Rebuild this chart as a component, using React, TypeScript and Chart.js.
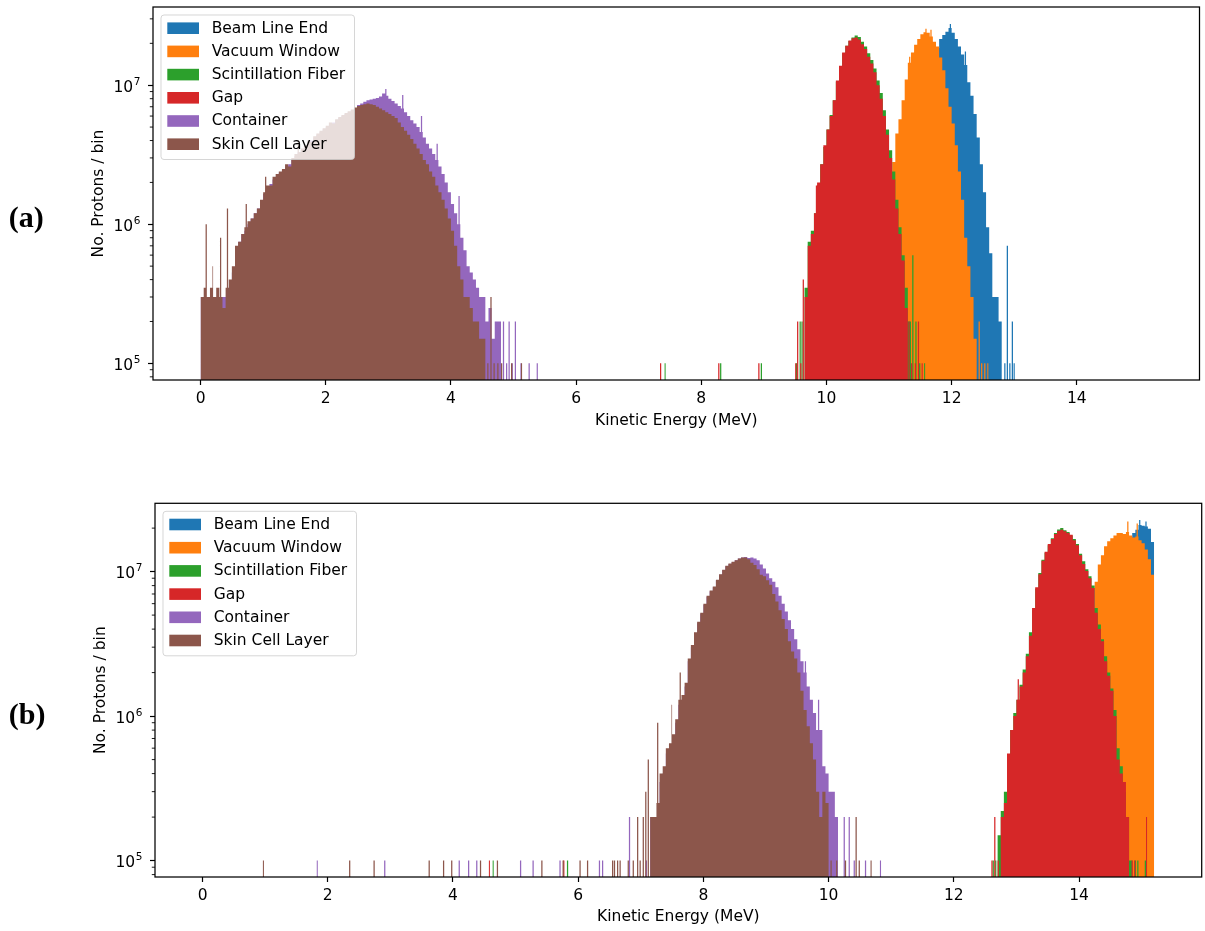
import React, { useEffect, useRef } from "react";
import { Chart, registerables } from "chart.js";

Chart.register(...registerables);

const FONT = "DejaVu Sans";
const UNIT = 1e5; // counts below are in units of 1e5 protons per bin
const BIN = 0.05; // MeV, dense-bin width
const SPIKE = 0.02; // MeV, width of an isolated histogram bin

const SERIES_LABELS = ["Beam Line End", "Vacuum Window", "Scintillation Fiber", "Gap", "Container", "Skin Cell Layer"];
const SERIES_COLORS = ["#1f77b4", "#ff7f0e", "#2ca02c", "#d62728", "#9467bd", "#8c564b"];

const X_MIN = -0.76;
const X_MAX = 15.96;
const X_TICKS = [0, 2, 4, 6, 8, 10, 12, 14];
const Y_TICKS = [1e5, 1e6, 1e7];
const Y_TICK_BASE = "10";
const Y_TICK_EXPONENTS = ["5", "6", "7"];
const X_TITLE = "Kinetic Energy (MeV)";
const Y_TITLE = "No. Protons / bin";
const PANEL_LABELS = ["(a)", "(b)"];
const A_Y_RANGE = [7.59e4, 3.65e7];
const B_Y_RANGE = [7.7e4, 2.97e7];

// ---------------- Panel (a) ----------------
const aBeamStart = 11.1;
const aBeam = [8, 12, 18, 27, 38, 52, 70, 90, 110, 130, 145, 160, 175, 185, 215, 230, 242, 258, 238, 215, 190, 166, 140, 105, 84, 62, 42, 27, 17, 9.5, 6.2, 3, 3, 2];
const aBeamSpikeE = [11.97, 12.21, 12.84, 12.88, 12.92, 12.96, 12.99];
const aBeamSpikeN = [275, 175, 1, 7, 1, 2, 1];

const aVacuumStart = 10.85;
const aVacuum = [3, 6, 11, 18, 28, 45, 57, 78, 110, 145, 172, 195, 215, 232, 240, 238, 224, 205, 190, 158, 128, 95, 70, 53, 37, 24, 15, 8, 5, 3, 1.5];
const aVacuumSpikeE = [11.32, 11.58, 11.66, 12.43, 12.47, 12.52, 12.57];
const aVacuumSpikeN = [160, 255, 250, 2, 1, 1, 1];

const aFiberStart = 9.65;
const aFiber = [3.5, 7.5, 9, 12, 19, 27, 36, 48, 61, 78, 106, 136, 170, 192, 208, 220, 228, 222, 205, 190, 170, 152, 132, 108, 88, 66, 48, 34, 24, 15, 9.5, 6, 3.5, 2];
const aFiberSpikeE = [7.41, 8.3, 8.95, 9.51, 9.57, 9.6, 11.37, 11.42, 11.48, 11.56];
const aFiberSpikeN = [1, 1, 1, 1, 2, 2, 6, 2, 1, 1];

const aGapStart = 9.65;
const aGap = [3, 7, 8.5, 12, 20, 27, 37, 48, 60, 78, 108, 138, 172, 192, 210, 218, 220, 213, 197, 182, 160, 143, 124, 100, 80, 60, 44, 30, 21, 13, 8.5, 5.5, 2.5];
const aGapSpikeE = [7.34, 8.27, 8.91, 9.5, 9.53, 9.58, 9.62, 9.83, 11.31, 11.35, 11.41, 11.46, 11.52];
const aGapSpikeN = [1, 1, 1, 1, 2, 1, 4, 19, 2, 1, 1, 2, 1];

const aContainerStart = 0;
const aContainer = [
  3, 3, 3, 3, 3, 3, 3, 3, 3, 3.5,
  4.5, 6.5, 7.5, 8.5, 9, 10, 11, 12, 13, 14.5,
  16.5, 18.5, 19.5, 21, 22, 23.5, 24.5, 26, 27, 29,
  31, 33, 34, 36, 38, 40, 42, 44, 46, 48,
  50, 52, 54, 56, 58, 60, 62, 64, 66, 68,
  72, 74, 76, 78, 79, 80, 81, 83, 87, 84,
  80, 77, 74, 71, 68, 64, 60, 56, 53, 50,
  46, 42, 38, 35, 32, 29, 26, 23, 20, 17,
  14, 12, 10, 8, 6.5, 5, 4.5, 4, 3.5, 3,
  3, 2, 2.5, 1.5, 2, 2,
];
const aContainerSpikeE = [2.95, 3.22, 3.52, 3.77, 4.12, 4.83, 4.88, 4.92, 4.97, 5.02, 5.11, 5.24, 5.37];
const aContainerSpikeN = [94, 85, 60, 38, 16, 2, 1, 2, 1, 2, 1, 1, 1];

const aSkinStart = 0;
const aSkin = [
  3, 3.5, 3, 3.5, 3, 3.5, 3, 2.5, 3.5, 4,
  5, 7, 7.5, 8.5, 9.5, 10.5, 11, 12, 13, 15,
  17, 19, 19, 22, 23, 24, 25, 27, 26, 30,
  32, 33, 35, 37, 40, 39, 43, 45, 47, 49,
  51, 54, 53, 57, 59, 61, 63, 65, 67, 69,
  71, 72, 73, 74, 73, 72, 70, 68, 66, 64,
  62, 60, 58, 54, 50, 47, 44, 41, 38, 35,
  32, 29, 27, 24, 22, 19, 17, 15, 13, 11,
  9, 7, 5, 4, 3, 3, 2.5, 2, 2, 1.5,
  1.5,
];
const aSkinSpikeE = [0.08, 0.19, 0.31, 0.42, 0.72, 1.03, 1.55, 4.58, 4.63, 4.68, 4.74, 4.8, 4.96, 5.12];
const aSkinSpikeN = [10, 5, 8, 13, 14, 22, 40, 1, 3, 1, 1, 1, 1, 1];

// ---------------- Panel (b) ----------------
const bBeamStart = 14.3;
const bBeam = [20, 30, 45, 60, 80, 100, 120, 140, 155, 165, 172, 185, 195, 210, 208, 205, 198, 160];
const bBeamSpikeE = [14.96, 15.06];
const bBeamSpikeN = [228, 222];

const bVacuumStart = 13.85;
const bVacuum = [3, 5, 8, 12, 19, 28, 40, 55, 85, 112, 130, 150, 162, 170, 178, 185, 185, 182, 188, 178, 172, 175, 165, 157, 142, 122, 95];
const bVacuumSpikeE = [14.77, 14.92];
const bVacuumSpikeN = [222, 215];

const bFiberStart = 12.7;
const bFiber = [1.5, 2.2, 3, 5, 8, 10.5, 13, 16.5, 21, 27, 38, 54, 76, 98, 121, 135, 152, 170, 185, 196, 200, 193, 188, 178, 168, 155, 133, 118, 104, 93, 80, 56, 43, 34, 26, 20, 15.5, 11, 6, 4.5, 3, 2, 1];
const bFiberSpikeE = [4.63, 5.82, 12.62, 12.66, 14.89, 14.93, 15.05];
const bFiberSpikeN = [1, 1, 1, 1, 1, 1, 1];

const bGapStart = 12.75;
const bGap = [2, 2.5, 5.5, 8, 10, 13, 16, 20, 26, 36, 56, 78, 96, 119, 137, 155, 168, 182, 192, 195, 190, 185, 180, 165, 152, 130, 113, 101, 90, 77, 52, 40, 33, 24, 19, 15, 10, 5, 4, 3.5, 2];
const bGapSpikeE = [4.57, 5.76, 12.6, 12.645, 12.7, 13.02, 14.84, 14.88, 15.07];
const bGapSpikeN = [1, 1, 1, 2, 1, 18, 1, 1, 2];

const bContainerStart = 7.15;
const bContainer = [
  2, 2, 2, 3.5, 4, 5.5, 6, 7, 9, 12, 13, 16, 24, 30, 37, 44, 51, 59, 67, 73, 78, 87, 95, 102, 109, 113, 116, 120, 123, 125, 126,
  124, 125, 123, 120, 112, 105, 97, 90, 85, 78, 68, 60, 53, 46, 40, 34, 29, 24, 20, 16, 13, 10.5, 8, 5.5, 4.5, 4, 3, 3, 2,
];
const bContainerSpikeE = [1.82, 2.9, 4.09, 4.24, 4.37, 5.07, 5.27, 5.7, 6.33, 6.38, 6.81, 7.08, 9.62, 9.83, 10.24, 10.32, 10.4, 10.58, 10.82];
const bContainerSpikeN = [1, 1, 1, 1, 1, 1, 1, 1, 1, 1, 2, 1, 24, 13, 2, 2, 1, 1, 1];

const bSkinStart = 7.15;
const bSkin = [2, 2, 2.5, 4, 4.5, 6, 6.5, 7.5, 9.5, 13, 14, 17, 25, 31, 38, 45, 52, 60, 68, 74, 79, 88, 96, 103, 110, 114, 117, 120, 123, 125, 125, 122, 115, 111, 104, 95, 93, 87, 81, 70, 62, 54, 47, 40, 33, 28, 25, 20, 15, 11, 8.5, 6.5, 5, 3, 2, 3, 2.5];
const bSkinSpikeE = [0.96, 2.34, 2.73, 3.61, 3.84, 3.97, 4.43, 4.7, 5.41, 5.75, 6.02, 6.14, 6.54, 6.57, 6.62, 6.66, 6.79, 6.87, 6.94, 6.98, 7.03, 7.07, 7.11, 7.26, 7.49, 7.62, 10.03, 10.12, 10.26, 10.43, 10.48, 10.67];
const bSkinSpikeN = [1, 1, 1, 1, 1, 1, 1, 1, 1, 1, 1, 1, 1, 1, 1, 1, 1, 1, 2, 1, 2, 3, 5, 9, 12, 20, 1, 1, 1, 2, 1, 1];

type Series = { start: number; counts: number[]; spikeE: number[]; spikeN: number[] };

const A_SERIES: Series[] = [
  { start: aBeamStart, counts: aBeam, spikeE: aBeamSpikeE, spikeN: aBeamSpikeN },
  { start: aVacuumStart, counts: aVacuum, spikeE: aVacuumSpikeE, spikeN: aVacuumSpikeN },
  { start: aFiberStart, counts: aFiber, spikeE: aFiberSpikeE, spikeN: aFiberSpikeN },
  { start: aGapStart, counts: aGap, spikeE: aGapSpikeE, spikeN: aGapSpikeN },
  { start: aContainerStart, counts: aContainer, spikeE: aContainerSpikeE, spikeN: aContainerSpikeN },
  { start: aSkinStart, counts: aSkin, spikeE: aSkinSpikeE, spikeN: aSkinSpikeN },
];
const B_SERIES: Series[] = [
  { start: bBeamStart, counts: bBeam, spikeE: bBeamSpikeE, spikeN: bBeamSpikeN },
  { start: bVacuumStart, counts: bVacuum, spikeE: bVacuumSpikeE, spikeN: bVacuumSpikeN },
  { start: bFiberStart, counts: bFiber, spikeE: bFiberSpikeE, spikeN: bFiberSpikeN },
  { start: bGapStart, counts: bGap, spikeE: bGapSpikeE, spikeN: bGapSpikeN },
  { start: bContainerStart, counts: bContainer, spikeE: bContainerSpikeE, spikeN: bContainerSpikeN },
  { start: bSkinStart, counts: bSkin, spikeE: bSkinSpikeE, spikeN: bSkinSpikeN },
];

// Layout (pixels) for each panel
const LAYOUT_A = { top: 0, height: 440, padding: { left: 85, top: 7, right: 5.5, bottom: 0 }, yWidth: 68, xHeight: 60, xTitlePad: 10.1, yTitlePad: 4.3 };
const LAYOUT_B = { top: 490, height: 441, padding: { left: 87, top: 13.3, right: 3.3, bottom: 0 }, yWidth: 68, xHeight: 54, xTitlePad: 4.5, yTitlePad: 4.3 };

// Turn histogram bins into the vertices of a stepped outline (each vertex holds
// its height until the next vertex). Narrow single bins are overlaid as spikes.
function buildPoints(s: Series, floor: number) {
  const denseEnd = s.start + s.counts.length * BIN;
  const heightAt = (x: number) => {
    if (x < s.start || x >= denseEnd) return floor;
    return s.counts[Math.min(s.counts.length - 1, Math.floor((x - s.start) / BIN))] * UNIT;
  };
  const pts: { x: number; y: number }[] = [];
  s.counts.forEach((v, i) => pts.push({ x: s.start + i * BIN, y: v * UNIT }));
  pts.push({ x: denseEnd, y: floor });
  s.spikeE.forEach((e, i) => {
    const base = heightAt(e);
    pts.push({ x: e, y: Math.max(base, s.spikeN[i] * UNIT) });
    pts.push({ x: e + SPIKE, y: heightAt(e + SPIKE) });
  });
  pts.sort((a, b) => a.x - b.x);
  // drop vertices that share an x with a later one (keeps the outline well formed)
  const out: { x: number; y: number }[] = [];
  pts.forEach((p) => {
    const last = out[out.length - 1];
    if (last && Math.abs(last.x - p.x) < 1e-9) {
      last.y = Math.max(last.y, p.y);
    } else {
      out.push({ ...p });
    }
  });
  return out;
}

function makeDecor() {
  return {
    id: "decor",
    afterDraw(chart: any) {
      const { ctx, chartArea: ca } = chart;
      const ys = chart.scales.y;
      ctx.save();
      // minor log ticks
      ctx.strokeStyle = "#000";
      ctx.lineWidth = 0.9;
      const lo = Math.floor(Math.log10(ys.min));
      const hi = Math.ceil(Math.log10(ys.max));
      for (let k = lo; k <= hi; k++) {
        for (let m = 2; m <= 9; m++) {
          const v = m * Math.pow(10, k);
          if (v < ys.min || v > ys.max) continue;
          const py = ys.getPixelForValue(v);
          ctx.beginPath();
          ctx.moveTo(ca.left - 3.2, py);
          ctx.lineTo(ca.left, py);
          ctx.stroke();
        }
      }
      // y tick labels 10^n
      ctx.fillStyle = "#000";
      ctx.textAlign = "left";
      ctx.textBaseline = "alphabetic";
      Y_TICKS.forEach((v, i) => {
        if (v < ys.min || v > ys.max) return;
        const py = ys.getPixelForValue(v);
        ctx.font = `10.5px ${FONT}`;
        const we = ctx.measureText(Y_TICK_EXPONENTS[i]).width;
        ctx.font = `15.5px ${FONT}`;
        const wb = ctx.measureText(Y_TICK_BASE).width;
        const xr = ca.left - 12.5;
        ctx.fillText(Y_TICK_BASE, xr - we - wb - 0.6, py + 6.4);
        ctx.font = `10.5px ${FONT}`;
        ctx.fillText(Y_TICK_EXPONENTS[i], xr - we, py - 0.2);
      });
      // frame
      ctx.strokeStyle = "#000";
      ctx.lineWidth = 1.25;
      ctx.strokeRect(ca.left, ca.top, ca.right - ca.left, ca.bottom - ca.top);
      // legend
      const bx = ca.left + 8;
      const by = ca.top + 8;
      const bw = 193.5;
      const bh = 144.5;
      const r = 3;
      ctx.beginPath();
      ctx.moveTo(bx + r, by);
      ctx.lineTo(bx + bw - r, by);
      ctx.arcTo(bx + bw, by, bx + bw, by + r, r);
      ctx.lineTo(bx + bw, by + bh - r);
      ctx.arcTo(bx + bw, by + bh, bx + bw - r, by + bh, r);
      ctx.lineTo(bx + r, by + bh);
      ctx.arcTo(bx, by + bh, bx, by + bh - r, r);
      ctx.lineTo(bx, by + r);
      ctx.arcTo(bx, by, bx + r, by, r);
      ctx.closePath();
      ctx.fillStyle = "rgba(255,255,255,0.8)";
      ctx.fill();
      ctx.strokeStyle = "rgba(204,204,204,0.8)";
      ctx.lineWidth = 1;
      ctx.stroke();
      ctx.font = `15.5px ${FONT}`;
      ctx.textBaseline = "middle";
      SERIES_LABELS.forEach((lab, i) => {
        const cy = by + 13.2 + 23.2 * i;
        ctx.fillStyle = SERIES_COLORS[i];
        ctx.fillRect(bx + 6.3, cy - 5.8, 31.7, 11.6);
        ctx.fillStyle = "#000";
        ctx.fillText(lab, bx + 50.7, cy + 0.4);
      });
      ctx.restore();
    },
  };
}

function HistPanel({ layout, series, yRange }: { layout: typeof LAYOUT_A; series: Series[]; yRange: number[] }) {
  const ref = useRef<HTMLCanvasElement>(null);
  useEffect(() => {
    const canvas = ref.current;
    if (!canvas) return;
    const floor = yRange[0];
    const n = series.length;
    const datasets = series.map((s, i) => ({
      label: SERIES_LABELS[i],
      data: buildPoints(s, floor),
      backgroundColor: SERIES_COLORS[i],
      borderColor: "rgba(0,0,0,0)",
      borderWidth: 0,
      pointRadius: 0,
      pointHoverRadius: 0,
      fill: "start",
      stepped: true,
      tension: 0,
      order: n - 1 - i,
    }));
    const axisFont = { family: FONT, size: 15.5 };
    const chart = new Chart(canvas, {
      type: "line",
      data: { datasets } as any,
      options: {
        animation: false,
        responsive: false,
        events: [],
        layout: { padding: layout.padding },
        plugins: { legend: { display: false }, tooltip: { enabled: false } },
        scales: {
          x: {
            type: "linear",
            min: X_MIN,
            max: X_MAX,
            afterBuildTicks: (s: any) => {
              s.ticks = X_TICKS.map((v) => ({ value: v }));
            },
            afterFit: (s: any) => {
              s.height = layout.xHeight;
            },
            ticks: {
              callback: (v: any) => String(v),
              font: axisFont,
              color: "#000",
              padding: 4.3,
              maxRotation: 0,
              autoSkip: false,
            },
            grid: { display: true, drawOnChartArea: false, drawTicks: true, tickLength: 5, tickWidth: 1.2, tickColor: "#000", color: "#000" },
            border: { display: false },
            title: { display: true, text: X_TITLE, font: axisFont, color: "#000", padding: { top: 0, bottom: layout.xTitlePad } },
          },
          y: {
            type: "logarithmic",
            min: yRange[0],
            max: yRange[1],
            afterBuildTicks: (s: any) => {
              s.ticks = Y_TICKS.map((v) => ({ value: v, major: true }));
            },
            afterFit: (s: any) => {
              s.width = layout.yWidth;
            },
            ticks: { display: false },
            grid: { display: true, drawOnChartArea: false, drawTicks: true, tickLength: 5, tickWidth: 1.2, tickColor: "#000", color: "#000" },
            border: { display: false },
            title: { display: true, text: Y_TITLE, font: axisFont, color: "#000", padding: { top: layout.yTitlePad, bottom: 0 } },
          },
        },
      } as any,
      plugins: [makeDecor()],
    });
    return () => chart.destroy();
  }, []);
  return (
    <canvas
      ref={ref}
      width={1205}
      height={layout.height}
      style={{ position: "absolute", left: 0, top: layout.top, width: 1205, height: layout.height }}
    />
  );
}

const labelStyle: React.CSSProperties = {
  position: "absolute",
  left: 8.8,
  fontFamily: "'Liberation Serif', serif",
  fontWeight: "bold",
  fontSize: 30,
  lineHeight: "30px",
  color: "#000",
  whiteSpace: "nowrap",
};

export default function App() {
  return (
    <div style={{ position: "absolute", left: 0, top: 0, width: 1205, height: 931, background: "#fff", overflow: "hidden" }}>
      <HistPanel layout={LAYOUT_A} series={A_SERIES} yRange={A_Y_RANGE} />
      <HistPanel layout={LAYOUT_B} series={B_SERIES} yRange={B_Y_RANGE} />
      <div style={{ ...labelStyle, top: 202.4 }}>{PANEL_LABELS[0]}</div>
      <div style={{ ...labelStyle, top: 698.7 }}>{PANEL_LABELS[1]}</div>
    </div>
  );
}
